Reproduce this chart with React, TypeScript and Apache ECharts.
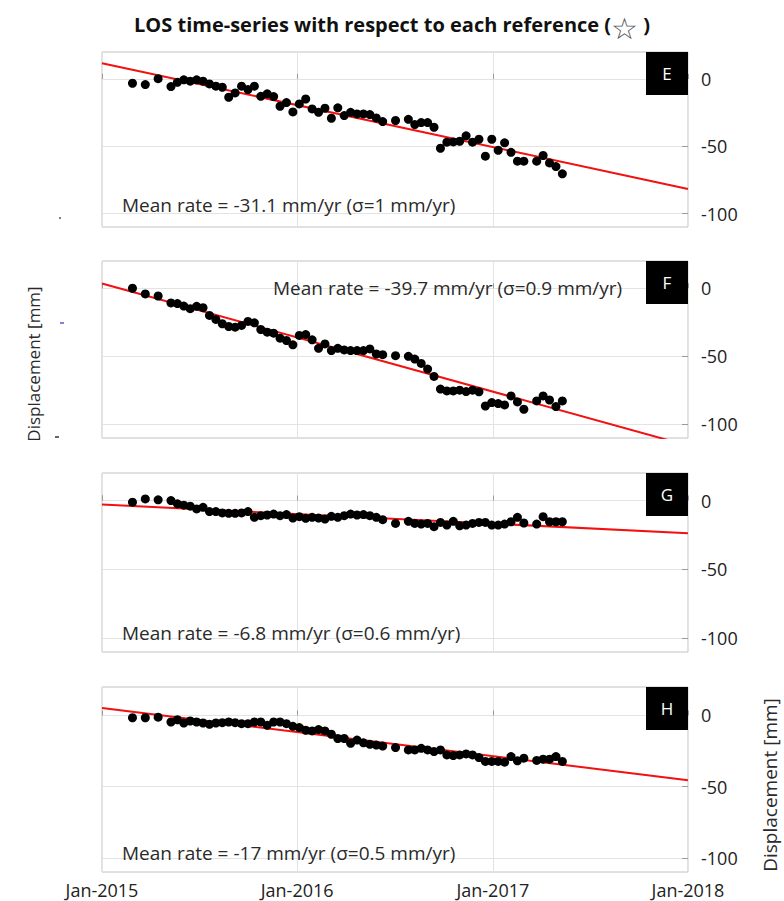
import React, { useEffect, useRef } from 'react';
import * as echarts from 'echarts';

// Acquisition dates (shared by all four panels)
const dates = [
  '2015-02-27', '2015-03-23', '2015-04-16', '2015-05-10', '2015-05-22', '2015-06-03', '2015-06-15', '2015-06-27',
  '2015-07-09', '2015-07-21', '2015-08-02', '2015-08-14', '2015-08-26', '2015-09-07', '2015-09-19', '2015-10-01',
  '2015-10-13', '2015-10-25', '2015-11-06', '2015-11-18', '2015-11-30', '2015-12-12', '2015-12-24',
  '2016-01-05', '2016-01-17', '2016-01-29', '2016-02-10', '2016-02-22', '2016-03-05', '2016-03-17', '2016-03-29',
  '2016-04-10', '2016-04-22', '2016-05-04', '2016-05-16', '2016-05-28', '2016-06-09',
  '2016-07-03', '2016-07-27',
  '2016-08-08', '2016-08-20', '2016-09-01', '2016-09-13', '2016-09-25', '2016-10-07', '2016-10-19', '2016-10-31',
  '2016-11-12', '2016-11-24', '2016-12-06', '2016-12-18', '2016-12-30',
  '2017-01-11', '2017-01-23', '2017-02-04', '2017-02-16', '2017-02-28',
  '2017-03-24', '2017-04-05', '2017-04-17', '2017-04-29', '2017-05-11',
];

const valuesE = [
  -3.2, -4.2, 0.2, -5.7, -2.5, -0.7, -1.7, -0.7, -1.7, -3.7, -5.4, -6.2, -13.6, -10.4, -5.4, -7.9,
  -5.4, -12.9, -11.1, -13.1, -20.3, -17.6, -24.5,
  -18.6, -14.9, -22.3, -24.8, -21.8, -29.2, -21.5, -27.2, -24.8, -26.0, -26.0, -26.5, -29.0, -31.7,
  -30.9, -30.0,
  -33.9, -32.4, -32.4, -35.9, -51.5, -47.0, -46.8, -46.3, -42.3, -47.0, -44.8, -57.4, -44.8,
  -53.0, -47.5, -54.5, -61.1, -61.1,
  -61.1, -56.9, -62.4, -65.1, -70.5,
];

const valuesF = [
  0, -4.2, -5.7, -10.8, -11.3, -13.1, -15.0, -13.3, -14.3, -20.0, -22.9, -26.1, -28.1, -28.6, -27.3, -24.4,
  -25.4, -30.3, -32.3, -33.0, -36.7, -38.4, -41.6,
  -34.7, -34.0, -37.9, -44.1, -40.9, -45.8, -44.1, -45.3, -45.8, -45.8, -45.8, -44.6, -48.3, -48.8,
  -49.5, -50.0,
  -52.0, -55.2, -59.4, -64.8, -74.1, -75.4, -75.4, -74.9, -75.9, -74.9, -76.1, -86.5, -84.0,
  -84.7, -85.7, -79.1, -83.5, -88.9,
  -82.8, -79.1, -82.1, -86.9, -82.8,
];

const valuesG = [
  -1.2, 1.2, 0.5, 0, -2.4, -3.4, -4.1, -6.1, -4.9, -8.0, -8.0, -9.0, -9.3, -9.3, -9.0, -8.0,
  -12.2, -11.0, -10.5, -9.8, -11.0, -10.2, -12.7,
  -11.7, -12.9, -12.2, -12.7, -13.4, -11.5, -12.2, -11.0, -9.8, -10.5, -10.2, -11.0, -12.2, -13.9,
  -16.6, -15.1,
  -16.6, -17.1, -16.6, -19.0, -15.9, -17.8, -15.1, -18.3, -17.8, -16.6, -15.9, -15.9, -17.8,
  -17.8, -17.1, -15.4, -12.2, -16.3,
  -17.1, -11.7, -15.4, -15.4, -15.4,
];

const valuesH = [
  -1.6, -1.6, -1.2, -4.6, -3.0, -5.3, -3.9, -4.6, -5.3, -6.2, -5.3, -5.1, -4.6, -5.1, -5.8, -5.8,
  -4.6, -4.6, -6.9, -4.6, -4.6, -5.8, -7.6,
  -8.5, -10.4, -10.9, -9.9, -10.9, -13.2, -16.2, -16.2, -19.6, -17.3, -19.2, -20.3, -20.8, -21.5,
  -22.6, -24.2,
  -24.2, -23.1, -24.2, -25.4, -24.2, -27.7, -28.2, -27.7, -27.0, -27.7, -29.6, -32.3, -32.3,
  -32.3, -32.8, -28.9, -31.9, -30.0,
  -31.6, -30.7, -30.7, -28.9, -32.3,
];

const panelValues = [valuesE, valuesF, valuesG, valuesH];
const panelLabels = ['E', 'F', 'G', 'H'];
const rateTexts = [
  'Mean rate = -31.1 mm/yr (σ=1 mm/yr)',
  'Mean rate = -39.7 mm/yr (σ=0.9 mm/yr)',
  'Mean rate = -6.8 mm/yr (σ=0.6 mm/yr)',
  'Mean rate = -17 mm/yr (σ=0.5 mm/yr)',
];
// Fitted trend line: value at Jan-2015 and at Jan-2018
const trendDates = ['2015-01-01', '2018-01-01'];
const trendStart = [11.6, 3.5, -2.9, 5.3];
const trendEnd = [-81.7, -115.6, -23.7, -45.5];

const yTickValues = [0, -50, -100];
const yMin = -110;
const yMax = 20;
const xMinDate = '2015-01-01';
const xMaxDate = '2018-01-01';

const titleText = 'LOS time-series with respect to each reference (';
const axisName = 'Displacement [mm]';

// layout
const GRID_LEFT = 102;
const GRID_RIGHT_X = 688;
const W = 784;
const H = 901;
const gridBoxes = [
  { top: 52, height: 175 },
  { top: 261, height: 177 },
  { top: 473, height: 179 },
  { top: 687, height: 185 },
];
const ratePos = [
  { x: 122, y: 205 },
  { x: 273, y: 288 },
  { x: 122, y: 633 },
  { x: 122, y: 853 },
];

const FONT = 'Open Sans';
const YEAR = 365 * 24 * 3600 * 1000;

function toTs(s: string) {
  const [y, m, d] = s.split('-').map(Number);
  return new Date(y, m - 1, d).getTime();
}

export default function App() {
  const ref = useRef<HTMLDivElement>(null);

  useEffect(() => {
    document.body.style.margin = '0';
    if (!ref.current) return;
    const chart = echarts.init(ref.current, null, { renderer: 'svg' });

    const grid = gridBoxes.map((g) => ({
      left: GRID_LEFT,
      right: W - GRID_RIGHT_X,
      top: g.top,
      height: g.height,
      show: true,
      borderColor: '#c2c2c2',
      borderWidth: 1,
      backgroundColor: '#ffffff',
    }));

    const xAxis = gridBoxes.map((_, i) => ({
      type: 'time',
      gridIndex: i,
      min: toTs(xMinDate),
      max: toTs(xMaxDate),
      minInterval: YEAR,
      maxInterval: YEAR + 24 * 3600 * 1000,
      axisLine: { show: false },
      axisTick: { show: true, inside: true, length: 5, lineStyle: { color: '#9a9a9a' } },
      axisLabel: {
        show: i === gridBoxes.length - 1,
        fontSize: 18,
        fontFamily: FONT,
        color: '#222',
        margin: 9,
        lineHeight: 18,
        showMinLabel: true,
        showMaxLabel: true,
        hideOverlap: false,
        formatter: (v: number) => 'Jan-' + new Date(v).getFullYear(),
      },
      splitLine: { show: true, lineStyle: { color: '#e3e3e3', width: 1 } },
    }));

    const yAxis = gridBoxes.map((_, i) => ({
      type: 'value',
      gridIndex: i,
      position: 'right',
      min: yMin,
      max: yMax,
      axisLine: { show: false },
      axisTick: { show: true, inside: true, length: 6, customValues: yTickValues, lineStyle: { color: '#9a9a9a' } },
      axisLabel: { customValues: yTickValues, fontSize: 18, fontFamily: FONT, color: '#222', margin: 13 },
      splitLine: { show: true, lineStyle: { color: '#e3e3e3', width: 1 } },
    }));

    const series: any[] = [];
    panelValues.forEach((vals, i) => {
      series.push({
        type: 'line',
        xAxisIndex: i,
        yAxisIndex: i,
        data: [
          [trendDates[0], trendStart[i]],
          [trendDates[1], trendEnd[i]],
        ],
        symbol: 'none',
        clip: true,
        lineStyle: { color: '#f21010', width: 2 },
        z: 2,
      });
      series.push({
        type: 'scatter',
        xAxisIndex: i,
        yAxisIndex: i,
        data: dates.map((d, k) => [d, vals[k]]),
        symbolSize: 9,
        itemStyle: { color: '#000000', opacity: 1 },
        z: 3,
      });
    });

    const graphic: any[] = [];
    gridBoxes.forEach((g, i) => {
      graphic.push({
        type: 'rect',
        z: 100,
        shape: { x: GRID_RIGHT_X - 42, y: g.top, width: 42, height: 43 },
        style: { fill: '#000000' },
      });
      graphic.push({
        type: 'text',
        z: 101,
        x: GRID_RIGHT_X - 21,
        y: g.top + 21.5,
        style: {
          text: panelLabels[i],
          fill: '#ffffff',
          fontSize: 17,
          fontFamily: FONT,
          align: 'center',
          verticalAlign: 'middle',
        },
      });
      graphic.push({
        type: 'text',
        z: 101,
        x: ratePos[i].x,
        y: ratePos[i].y,
        style: {
          text: rateTexts[i],
          fill: '#2a2a2a',
          fontSize: 19,
          fontFamily: FONT,
          align: 'left',
          verticalAlign: 'middle',
        },
      });
    });
    // axis names
    graphic.push({
      type: 'text',
      x: 33,
      y: 364,
      rotation: Math.PI / 2,
      style: { text: axisName, fill: '#2a2a2a', fontSize: 17, fontFamily: FONT, align: 'center', verticalAlign: 'middle' },
    });
    graphic.push({
      type: 'text',
      x: 770,
      y: 785,
      rotation: Math.PI / 2,
      style: { text: axisName, fill: '#2a2a2a', fontSize: 19, fontFamily: FONT, align: 'center', verticalAlign: 'middle' },
    });
    // small stray marks at the left margin
    graphic.push({ type: 'line', shape: { x1: 59, y1: 218, x2: 61, y2: 218 }, style: { stroke: '#555', lineWidth: 1.5 } });
    graphic.push({ type: 'line', shape: { x1: 60, y1: 323, x2: 64, y2: 323 }, style: { stroke: '#5a5acc', lineWidth: 1.5 } });
    graphic.push({ type: 'line', shape: { x1: 55, y1: 437, x2: 59, y2: 437 }, style: { stroke: '#333', lineWidth: 1.5 } });

    chart.setOption({
      animation: false,
      backgroundColor: '#ffffff',
      textStyle: { fontFamily: FONT },
      title: {
        text: titleText + '{s|☆} )',
        left: 'center',
        top: 0,
        textStyle: {
          fontSize: 20,
          fontWeight: 'bold',
          fontFamily: FONT,
          color: '#111',
          rich: {
            s: { fontSize: 30, fontWeight: 'normal', fontFamily: 'DejaVu Sans', color: '#555', padding: [8, 0, 0, 0] },
          },
        },
      },
      grid,
      xAxis,
      yAxis,
      series,
      graphic,
    } as any);

    return () => chart.dispose();
  }, []);

  return <div ref={ref} style={{ width: W, height: H }} />;
}
